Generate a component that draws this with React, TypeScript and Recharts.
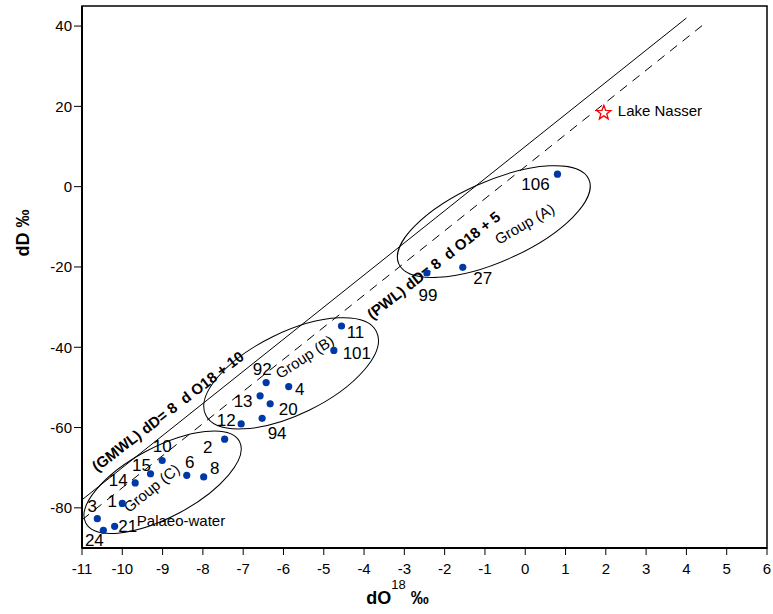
import React from "react";
import {
  ScatterChart,
  Scatter,
  XAxis,
  YAxis,
  ReferenceLine,
  ReferenceDot,
  ReferenceArea,
} from "recharts";

// Probennummern und Isotopenwerte
const sampleIds = ["24", "3", "21", "1", "14", "15", "10", "6", "8", "2", "11", "101", "92", "4", "13", "20", "12", "94", "106", "99", "27"];
const dO18 = [-10.47, -10.62, -10.19, -10.0, -9.68, -9.3, -9.01, -8.4, -7.98, -7.46, -4.56, -4.75, -6.43, -5.87, -6.58, -6.33, -7.05, -6.53, 0.8, -2.44, -1.55];
const dD = [-85.6, -82.7, -84.6, -78.9, -73.8, -71.5, -68.2, -71.9, -72.3, -62.9, -34.7, -40.8, -48.8, -49.8, -52.1, -54.1, -59.1, -57.7, 3.1, -21.5, -20.1];

const xTicks = [-11, -10, -9, -8, -7, -6, -5, -4, -3, -2, -1, 0, 1, 2, 3, 4, 5, 6];
const yTicks = [-80, -60, -40, -20, 0, 20, 40];

// Wasserlinien: Endpunkte
const gmwlX = [-11, 4];
const gmwlY = [-78, 42];
const pwlX = [-11, 4.5];
const pwlY = [-83, 41];

const lakeName = "Lake Nasser";
const lakeX = 1.95;
const lakeY = 18.4;

// Gruppen-Ellipsen (Mittelpunkte)
const groupCentreX = [-0.78, -5.81, -9.0];
const groupCentreY = [-8.7, -46.5, -73.6];

// Beschriftungen
const noteText = ["(GMWL) dD= 8  d O18 + 10", "(PWL) dD= 8  d O18 + 5", "Group (A)", "Group (B)", "Group (C)", "Palaeo-water"];
const noteX = [-8.79, -2.19, 0.05, -5.4, -9.19, -9.64];
const noteY = [-57.0, -20.6, -10.4, -43.5, -76.1, -84.6];

// Darstellung (Pixel)
const ellipseSize = [
  { rx: 104, ry: 40, angle: -24 },
  { rx: 95, ry: 41, angle: -26 },
  { rx: 87, ry: 35, angle: -28 },
];
const noteStyle = [
  { angle: -37.5, bold: true, anchor: "middle" },
  { angle: -38, bold: true, anchor: "middle" },
  { angle: -30, bold: false, anchor: "middle" },
  { angle: -33, bold: false, anchor: "middle" },
  { angle: -39, bold: false, anchor: "middle" },
  { angle: 0, bold: false, anchor: "start" },
];
const labelOffsets: Record<string, [number, number]> = {
  "24": [-9, 10], "3": [-5, -13], "21": [13, 0], "1": [-10, -2], "14": [-17, -3],
  "15": [-9, -9], "10": [0, -14], "6": [3, -13], "8": [11, -9], "2": [-17, 8],
  "11": [14, 6], "101": [23, 3], "92": [-4, -14], "4": [11, 2], "13": [-17, 5],
  "20": [18, 5], "12": [-15, -4], "94": [15, 15], "106": [-22, 10], "99": [1, 22], "27": [20, 11],
};

const samples = sampleIds.map((id, i) => ({ id, x: dO18[i], y: dD[i] }));
const lake = [{ id: lakeName, x: lakeX, y: lakeY }];

const FONT = "'Liberation Sans', Arial, sans-serif";
const DOT = "#0039a6";

function SampleDot(props: any) {
  const { cx, cy, payload } = props;
  if (cx == null || cy == null) return null;
  const [dx, dy] = labelOffsets[payload.id] ?? [0, 0];
  return (
    <g>
      <circle cx={cx} cy={cy} r={3.6} fill={DOT} />
      <text x={cx + dx} y={cy + dy + 6} textAnchor="middle" fontSize={17} fill="#000">
        {payload.id}
      </text>
    </g>
  );
}

function StarDot(props: any) {
  const { cx, cy, payload } = props;
  if (cx == null || cy == null) return null;
  const pts: string[] = [];
  for (let k = 0; k < 10; k++) {
    const r = k % 2 === 0 ? 7.5 : 3.1;
    const a = -Math.PI / 2 + (k * Math.PI) / 5;
    pts.push(`${cx + r * Math.cos(a)},${cy + r * Math.sin(a)}`);
  }
  return (
    <g>
      <polygon points={pts.join(" ")} fill="#fff" stroke="#ff0000" strokeWidth={1.3} />
      <text x={cx + 14} y={cy + 3} fontSize={15} fill="#000">
        {payload.id}
      </text>
    </g>
  );
}

export default function App() {
  return (
    <div style={{ position: "absolute", left: 0, top: 0, width: 773, height: 614, background: "#fff", fontFamily: FONT }}>
      <ScatterChart width={773} height={614} margin={{ top: 6, right: 6, bottom: 0, left: 0 }}>
        <ReferenceArea x1={-11} x2={6} y1={-90} y2={45} fill="none" stroke="#000" strokeWidth={1.5} ifOverflow="visible" />
        <XAxis
          type="number"
          dataKey="x"
          domain={[-11, 6]}
          ticks={xTicks}
          interval={0}
          allowDataOverflow
          height={66}
          tickSize={7}
          tickMargin={8}
          tick={{ fill: "#000", fontSize: 15 }}
          tickLine={{ stroke: "#000" }}
          axisLine={{ stroke: "#000", strokeWidth: 2 }}
          label={{
            content: (p: any) => {
              const vb = p.viewBox ?? { x: 82, y: 548, width: 685 };
              const cx = vb.x + vb.width / 2 - 27;
              return (
                <text x={cx} y={vb.y + 56} textAnchor="middle" fill="#000" fontSize={18} fontWeight="bold">
                  dO
                  <tspan dy={-15} fontSize={13} fontWeight="normal">18</tspan>
                  <tspan dy={15}> ‰</tspan>
                </text>
              );
            },
          }}
        />
        <YAxis
          type="number"
          dataKey="y"
          domain={[-90, 45]}
          ticks={yTicks}
          interval={0}
          allowDataOverflow
          width={82}
          tickSize={8}
          tickMargin={2}
          tick={{ fill: "#000", fontSize: 15 }}
          tickLine={{ stroke: "#000" }}
          axisLine={{ stroke: "#000", strokeWidth: 2 }}
          label={{
            content: () => (
              <text x={29} y={233} transform="rotate(-90, 29, 233)" textAnchor="middle" fill="#000" fontSize={18} fontWeight="bold">
                dD ‰
              </text>
            ),
          }}
        />
        <ReferenceLine
          segment={[{ x: gmwlX[0], y: gmwlY[0] }, { x: gmwlX[1], y: gmwlY[1] }]}
          stroke="#000"
          strokeWidth={1}
          ifOverflow="visible"
        />
        <ReferenceLine
          segment={[{ x: pwlX[0], y: pwlY[0] }, { x: pwlX[1], y: pwlY[1] }]}
          stroke="#000"
          strokeWidth={1}
          strokeDasharray="9 7"
          ifOverflow="visible"
        />
        {groupCentreX.map((gx, i) => (
          <ReferenceDot
            key={"ell" + i}
            x={gx}
            y={groupCentreY[i]}
            r={1}
            ifOverflow="visible"
            shape={(p: any) => (
              <ellipse
                cx={p.cx}
                cy={p.cy}
                rx={ellipseSize[i].rx}
                ry={ellipseSize[i].ry}
                transform={`rotate(${ellipseSize[i].angle}, ${p.cx}, ${p.cy})`}
                fill="none"
                stroke="#000"
                strokeWidth={1}
              />
            )}
          />
        ))}
        {noteText.map((t, i) => (
          <ReferenceDot
            key={"note" + i}
            x={noteX[i]}
            y={noteY[i]}
            r={1}
            ifOverflow="visible"
            shape={(p: any) => (
              <text
                x={p.cx}
                y={p.cy}
                transform={`rotate(${noteStyle[i].angle}, ${p.cx}, ${p.cy})`}
                textAnchor={noteStyle[i].anchor as any}
                fontSize={15}
                fontWeight={noteStyle[i].bold ? "bold" : "normal"}
                fill="#000"
                style={{ whiteSpace: "pre" }}
              >
                {t}
              </text>
            )}
          />
        ))}
        <Scatter data={samples} shape={<SampleDot />} isAnimationActive={false} />
        <Scatter data={lake} shape={<StarDot />} isAnimationActive={false} />
      </ScatterChart>
    </div>
  );
}
